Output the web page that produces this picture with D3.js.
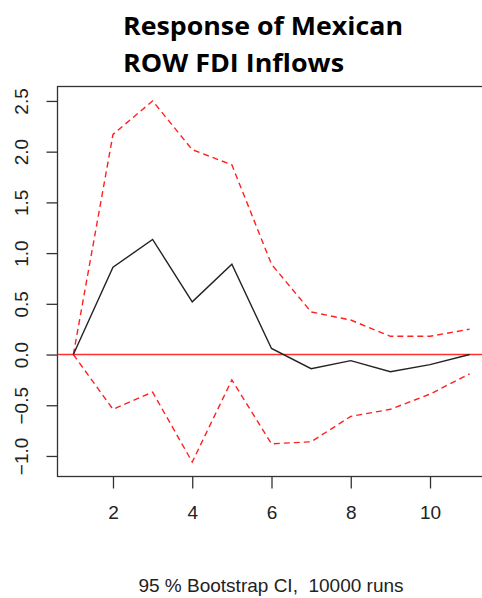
<!DOCTYPE html>
<html>
<head>
<meta charset="utf-8">
<script src="https://cdn.jsdelivr.net/npm/d3@7"></script>
<style>
  html, body { margin: 0; padding: 0; background: #fff; }
  svg { display: block; }
</style>
</head>
<body>
<svg id="chart" width="482" height="598"></svg>
<script>
// Impulse response horizon (periods)
const horizon = [1, 2, 3, 4, 5, 6, 7, 8, 9, 10, 11];
// Orthogonal impulse response of ROW FDI inflows
const response = [0, 0.86, 1.135, 0.52, 0.89, 0.06, -0.14, -0.06, -0.17, -0.10, 0.0];
// 95% bootstrap confidence bounds
const upperCI = [0, 2.17, 2.50, 2.02, 1.87, 0.89, 0.42, 0.34, 0.18, 0.18, 0.25];
const lowerCI = [0, -0.54, -0.37, -1.06, -0.25, -0.88, -0.86, -0.61, -0.54, -0.39, -0.19];
// Axis tick values
const xTicks = [2, 4, 6, 8, 10];
const yTicks = [-1.0, -0.5, 0.0, 0.5, 1.0, 1.5, 2.0, 2.5];
const titleLines = ["Response of Mexican", "ROW FDI Inflows"];
const footnote = "95 % Bootstrap CI,  10000 runs";

const svg = d3.select("#chart");
const plot = { left: 57.5, right: 485.5, top: 86.5, bottom: 476.5 };

// R-style 4% padding around the data range
const xPad = (d3.max(horizon) - d3.min(horizon)) * 0.04;
const x = d3.scaleLinear()
  .domain([d3.min(horizon) - xPad, d3.max(horizon) + xPad])
  .range([plot.left, plot.right]);
const yMin = d3.min(lowerCI), yMax = d3.max(upperCI);
const yPad = (yMax - yMin) * 0.04;
const y = d3.scaleLinear()
  .domain([yMin - yPad, yMax + yPad])
  .range([plot.bottom, plot.top]);

const axisColor = "#333";
const tickFont = "'Liberation Sans', Arial, sans-serif";
const tickSize = "19px";

// Plot frame
svg.append("rect")
  .attr("x", plot.left).attr("y", plot.top)
  .attr("width", plot.right - plot.left).attr("height", plot.bottom - plot.top)
  .attr("fill", "none").attr("stroke", axisColor).attr("stroke-width", 1.3);

// Bottom axis
const xAxis = svg.append("g")
  .attr("transform", `translate(0,${plot.bottom})`)
  .call(d3.axisBottom(x).tickValues(xTicks).tickSize(12).tickPadding(17).tickFormat(d3.format("d")));
xAxis.select(".domain").remove();
xAxis.selectAll("line").attr("stroke", axisColor).attr("stroke-width", 1.3);
xAxis.selectAll("text").attr("fill", "#222").style("font-family", tickFont).style("font-size", tickSize);

// Left axis with rotated labels
const yAxis = svg.append("g")
  .attr("transform", `translate(${plot.left},0)`)
  .call(d3.axisLeft(y).tickValues(yTicks).tickSize(11).tickFormat(d3.format(".1f")));
yAxis.select(".domain").remove();
yAxis.selectAll("line").attr("stroke", axisColor).attr("stroke-width", 1.3);
yAxis.selectAll("text")
  .attr("fill", "#222")
  .attr("x", null)
  .attr("text-anchor", "middle")
  .attr("transform", "translate(-36,0) rotate(-90)")
  .attr("dy", "0.36em")
  .style("font-family", tickFont).style("font-size", tickSize);

// Zero reference line
svg.append("line")
  .attr("x1", plot.left).attr("x2", plot.right)
  .attr("y1", y(0)).attr("y2", y(0))
  .attr("stroke", "#ff3030").attr("stroke-width", 1.6);

const line = d3.line().x((d, i) => x(horizon[i])).y(d => y(d));

// Confidence bands
[upperCI, lowerCI].forEach(band => {
  svg.append("path")
    .attr("d", line(band))
    .attr("fill", "none")
    .attr("stroke", "#ff2020")
    .attr("stroke-width", 1.4)
    .attr("stroke-dasharray", "6,4");
});

// Point estimate
svg.append("path")
  .attr("d", line(response))
  .attr("fill", "none")
  .attr("stroke", "#222")
  .attr("stroke-width", 1.4);

// Title, two lines
const titleWidths = [280, 221];
svg.append("g").selectAll("text")
  .data(titleLines)
  .join("text")
  .attr("x", 123)
  .attr("y", (d, i) => 35 + i * 37)
  .attr("textLength", (d, i) => titleWidths[i])
  .attr("lengthAdjust", "spacingAndGlyphs")
  .style("font-family", "'Open Sans', Lato, sans-serif")
  .style("font-weight", "bold")
  .style("font-size", "24.5px")
  .attr("fill", "#000")
  .text(d => d);

// Footnote
svg.append("text")
  .attr("x", 271).attr("y", 592)
  .attr("text-anchor", "middle")
  .style("font-family", tickFont)
  .style("font-size", tickSize)
  .attr("fill", "#222")
  .style("white-space", "pre")
  .text(footnote);
</script>
</body>
</html>
